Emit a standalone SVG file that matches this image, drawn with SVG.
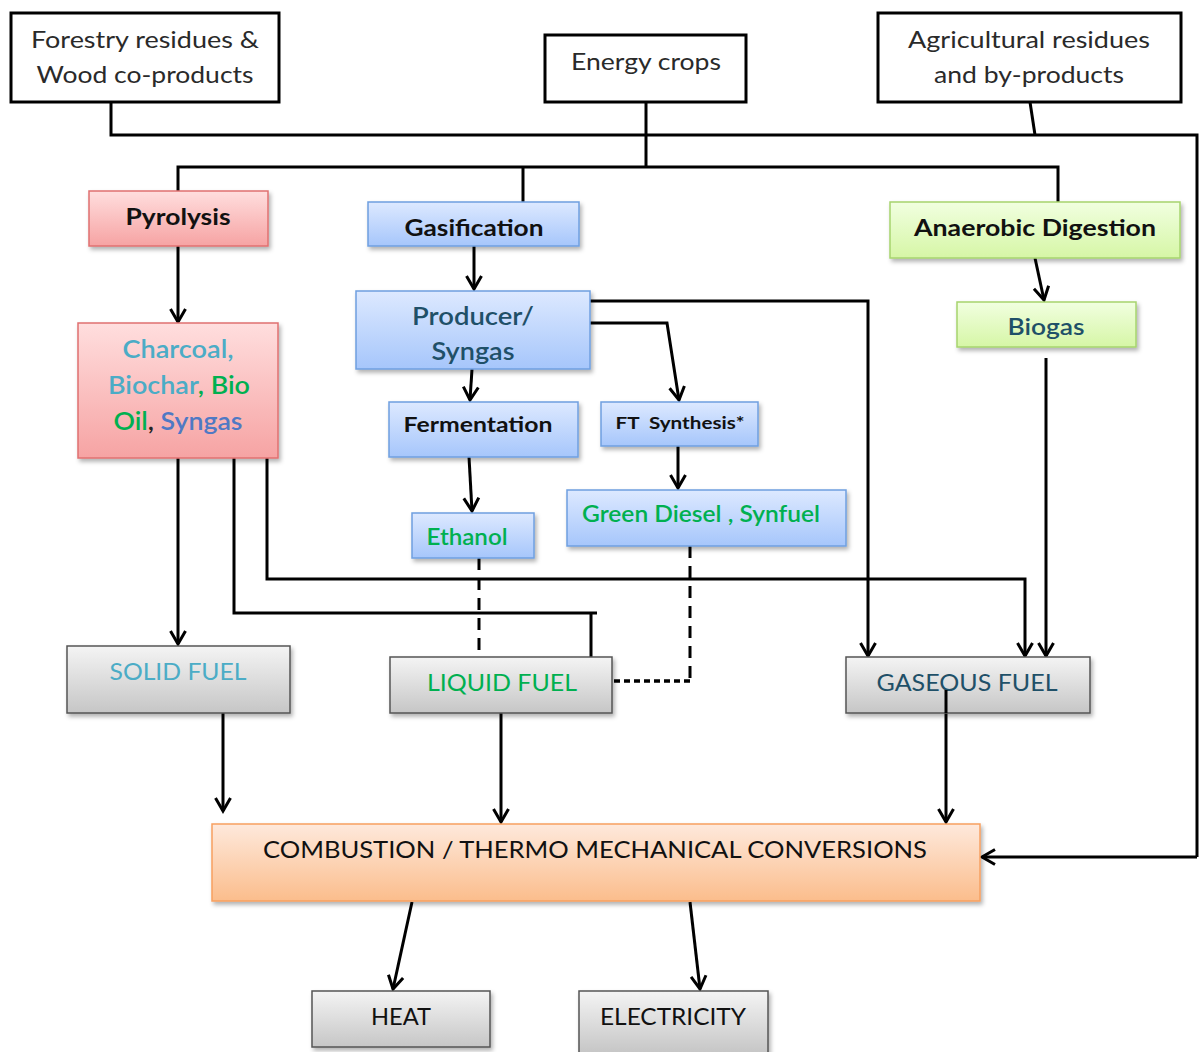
<svg xmlns="http://www.w3.org/2000/svg" width="1199" height="1052" viewBox="0 0 1199 1052">
<defs>
<linearGradient id="gRed" x1="0" y1="0" x2="0" y2="1"><stop offset="0" stop-color="#ffdede"/><stop offset="1" stop-color="#f6a3a3"/></linearGradient>
<linearGradient id="gBlue" x1="0" y1="0" x2="0" y2="1"><stop offset="0" stop-color="#dde9ff"/><stop offset="1" stop-color="#a6c6fb"/></linearGradient>
<linearGradient id="gGreen" x1="0" y1="0" x2="0" y2="1"><stop offset="0" stop-color="#f1ffe0"/><stop offset="1" stop-color="#d6f6a6"/></linearGradient>
<linearGradient id="gGray" x1="0" y1="0" x2="0" y2="1"><stop offset="0" stop-color="#f4f4f4"/><stop offset="1" stop-color="#c6c6c6"/></linearGradient>
<linearGradient id="gOrange" x1="0" y1="0" x2="0" y2="1"><stop offset="0" stop-color="#fee9dc"/><stop offset="1" stop-color="#fbbd8c"/></linearGradient>
<filter id="sh" x="-10%" y="-20%" width="125%" height="150%"><feDropShadow dx="2" dy="3" stdDeviation="2" flood-color="#000" flood-opacity="0.3"/></filter>
<marker id="arr" markerUnits="userSpaceOnUse" viewBox="-16 -10 20 20" refX="0" refY="0" markerWidth="20" markerHeight="20" orient="auto">
<path d="M -13 -7.5 L 0 0 L -13 7.5" fill="none" stroke="#000" stroke-width="3" stroke-linejoin="miter"/>
</marker>
<style>
text{font-family:Lato,"Open Sans","Liberation Sans",sans-serif;text-anchor:middle}
.src{fill:#fff;stroke:#000;stroke-width:3}
.red{fill:url(#gRed);stroke:#e07070;stroke-width:1.5;filter:url(#sh)}
.blue{fill:url(#gBlue);stroke:#6f9fe0;stroke-width:1.5;filter:url(#sh)}
.green{fill:url(#gGreen);stroke:#a6d46e;stroke-width:1.5;filter:url(#sh)}
.gray{fill:url(#gGray);stroke:#555;stroke-width:1.5;filter:url(#sh)}
.orange{fill:url(#gOrange);stroke:#f7a060;stroke-width:1.5;filter:url(#sh)}
.t1{font-size:24px;fill:#2a2a2a}
.tb{font-size:22px;font-weight:bold;fill:#111}
.ln{fill:none;stroke:#000;stroke-width:3}
.ar{marker-end:url(#arr)}
.dash{fill:none;stroke:#000;stroke-width:3;stroke-dasharray:12 8}
.dash2{fill:none;stroke:#000;stroke-width:3.5;stroke-dasharray:6 4}
.teal{fill:#1f5068}
.lb{fill:#4bacc6}
.gr{fill:#00b050}
.sb{fill:#4f79c4}
.cap{font-size:23px}
</style>
</defs>
<g id="connectors">
<path class="ln" d="M111 102 V135 H1197 V857"/>
<path class="ln ar" d="M1197 857 H982"/>
<path class="ln" d="M1030 102 L1035 135"/>
<path class="ln" d="M646 102 V167"/>
<path class="ln" d="M178 191 V167 H1058 V202"/>
<path class="ln" d="M523 167 V202"/>
<path class="ln ar" d="M178 246 V322"/>
<path class="ln ar" d="M474 246 V289"/>
<path class="ln ar" d="M472 369 L470 400"/>
<path class="ln ar" d="M469 457 L472 511"/>
<path class="ln ar" d="M590 323 H667 L679 400"/>
<path class="ln ar" d="M678 446 V488"/>
<path class="ln ar" d="M590 301 H868 V656"/>
<path class="ln ar" d="M1035 258 L1044 300"/>
<path class="ln ar" d="M1046 358 V656"/>
<path class="ln ar" d="M178 458 V644"/>
<path class="ln" d="M234 458 V613 H597 M591 613 V657"/>
<path class="ln ar" d="M267 458 V579 H1025 V656"/>
<path class="dash" d="M479 558 V657"/>
<path class="dash" d="M690 546 V681"/>
<path class="dash2" d="M690 681 H603"/>
<path class="ln ar" d="M223 713 V811"/>
<path class="ln ar" d="M501 713 V822"/>
<path class="ln ar" d="M946 690 V822"/>
<path class="ln ar" d="M412 902 L393 989"/>
<path class="ln ar" d="M690 902 L700 989"/>
</g>
<g id="forestry"><rect class="src" x="11" y="13" width="268" height="89"/>
<text class="t1" x="145" y="48" textLength="228" lengthAdjust="spacingAndGlyphs">Forestry residues &amp;</text>
<text class="t1" x="145" y="83" textLength="217" lengthAdjust="spacingAndGlyphs">Wood co-products</text></g>
<g id="energy"><rect class="src" x="545" y="35" width="201" height="67"/>
<text class="t1" x="646" y="70" textLength="150" lengthAdjust="spacingAndGlyphs">Energy crops</text></g>
<g id="agri"><rect class="src" x="878" y="13" width="303" height="89"/>
<text class="t1" x="1029" y="48" textLength="242" lengthAdjust="spacingAndGlyphs">Agricultural residues</text>
<text class="t1" x="1029" y="83" textLength="190" lengthAdjust="spacingAndGlyphs">and by-products</text></g>
<g id="pyrolysis"><rect class="red" x="89" y="191" width="179" height="55"/>
<text class="tb" x="178" y="225" textLength="105" lengthAdjust="spacingAndGlyphs">Pyrolysis</text></g>
<g id="gasification"><rect class="blue" x="368" y="202" width="211" height="44"/>
<text class="tb" x="474" y="236" textLength="139" lengthAdjust="spacingAndGlyphs">Gasification</text></g>
<g id="anaerobic"><rect class="green" x="890" y="202" width="290" height="56"/>
<text class="tb" x="1035" y="236" textLength="242" lengthAdjust="spacingAndGlyphs">Anaerobic Digestion</text></g>
<g id="charcoal"><rect class="red" x="78" y="323" width="200" height="135"/>
<text x="178" y="358" font-size="24" font-weight="600" class="lb" textLength="111" lengthAdjust="spacingAndGlyphs">Charcoal,</text>
<text x="179" y="394" font-size="24" font-weight="600" textLength="142" lengthAdjust="spacingAndGlyphs"><tspan class="lb">Biochar</tspan><tspan class="gr">, Bio</tspan></text>
<text x="178" y="430" font-size="24" font-weight="600" textLength="129" lengthAdjust="spacingAndGlyphs"><tspan class="gr">Oil</tspan><tspan fill="#222">, </tspan><tspan class="sb">Syngas</tspan></text></g>
<g id="producer"><rect class="blue" x="356" y="291" width="234" height="78"/>
<text x="473" y="325" font-size="24" font-weight="600" class="teal" textLength="122" lengthAdjust="spacingAndGlyphs">Producer/</text>
<text x="473" y="360" font-size="24" font-weight="600" class="teal" textLength="83" lengthAdjust="spacingAndGlyphs">Syngas</text></g>
<g id="fermentation"><rect class="blue" x="389" y="402" width="189" height="55"/>
<text x="478" y="432" font-size="20" font-weight="bold" fill="#111" textLength="149" lengthAdjust="spacingAndGlyphs">Fermentation</text></g>
<g id="ft"><rect class="blue" x="601" y="402" width="157" height="44"/>
<text x="680" y="429" font-size="17" font-weight="bold" fill="#111" textLength="129" lengthAdjust="spacingAndGlyphs" xml:space="preserve">FT  Synthesis*</text></g>
<g id="ethanol"><rect class="blue" x="412" y="513" width="122" height="45"/>
<text x="467" y="545" font-size="22" font-weight="600" class="gr" textLength="81" lengthAdjust="spacingAndGlyphs">Ethanol</text></g>
<g id="greendiesel"><rect class="blue" x="567" y="490" width="279" height="56"/>
<text x="701" y="522" font-size="22" font-weight="600" class="gr" textLength="238" lengthAdjust="spacingAndGlyphs">Green Diesel , Synfuel</text></g>
<g id="biogas"><rect class="green" x="957" y="302" width="179" height="45"/>
<text x="1046" y="335" font-size="22" font-weight="600" class="teal" textLength="77" lengthAdjust="spacingAndGlyphs">Biogas</text></g>
<g id="solid"><rect class="gray" x="67" y="646" width="223" height="67"/>
<text x="178" y="680" class="cap lb" textLength="137" lengthAdjust="spacingAndGlyphs">SOLID FUEL</text></g>
<g id="liquid"><rect class="gray" x="390" y="657" width="222" height="56"/>
<text x="502" y="691" class="cap gr" textLength="150" lengthAdjust="spacingAndGlyphs">LIQUID FUEL</text></g>
<g id="gaseous"><rect class="gray" x="846" y="657" width="244" height="56"/>
<text x="967" y="691" class="cap teal" textLength="181" lengthAdjust="spacingAndGlyphs">GASEOUS FUEL</text></g>
<g id="gaseous-line"><path class="ln" d="M946 690 V713"/></g>
<g id="combustion"><rect class="orange" x="212" y="824" width="768" height="77"/>
<text x="595" y="858" font-size="23" fill="#111" textLength="664" lengthAdjust="spacingAndGlyphs">COMBUSTION / THERMO MECHANICAL CONVERSIONS</text></g>
<g id="heat"><rect class="gray" x="312" y="991" width="178" height="56"/>
<text x="401" y="1025" font-size="23" fill="#111" textLength="60" lengthAdjust="spacingAndGlyphs">HEAT</text></g>
<g id="electricity"><rect class="gray" x="579" y="991" width="189" height="62"/>
<text x="673" y="1025" font-size="23" fill="#111" textLength="146" lengthAdjust="spacingAndGlyphs">ELECTRICITY</text></g>
</svg>
